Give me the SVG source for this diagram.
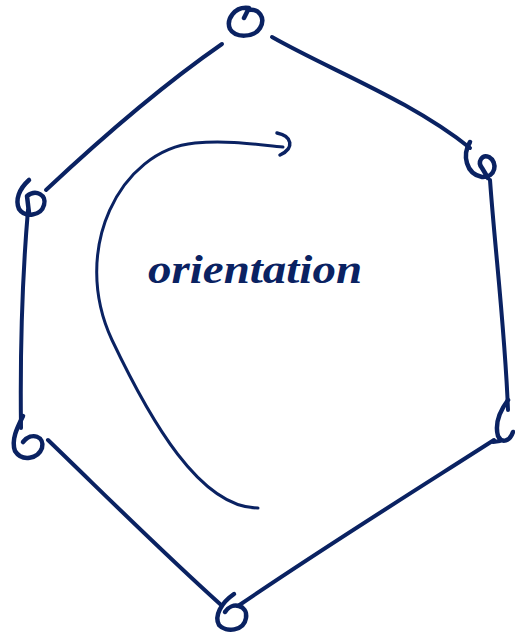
<svg xmlns="http://www.w3.org/2000/svg" width="515" height="633" viewBox="0 0 515 633">
<style>
.s{fill:none;stroke:#0a2262;stroke-linecap:round;stroke-linejoin:round}
.e{stroke-width:4}
.v{stroke-width:4.5}
.t{font-family:"Liberation Serif",serif;font-style:italic;font-weight:bold;font-size:40px;fill:#0a2262}
</style>
<rect width="515" height="633" fill="#fff"/>
<g id="connectors">
<path class="s e" d="M222,44 C170,80 110,130 46,190"/>
<path class="s e" d="M272,37 C330,70 410,100 470,148"/>
<path class="s e" d="M490,180 C495,250 505,330 508,410"/>
<path class="s e" d="M494,440 C400,500 320,550 238,606"/>
<path class="s e" d="M220,604 C160,550 100,490 48,440"/>
<path class="s e" d="M21,428 C20,350 22,280 28,210"/>
<path class="s" stroke-width="3" d="M258,508 C200,508 150,420 112,340 C70,250 120,150 195,143 C230,140 260,145 283,147"/>
<path class="s" stroke-width="3.5" d="M277,133 C292,136 295,148 280,155"/>
</g>
<g id="n1"><path class="s v" d="M249,8 C234,6 226,20 230,29 C235,38 254,38 260,28 C266,18 259,8 248,10 L244,18"/></g>
<g id="n2"><path class="s v" d="M470,142 C462,155 466,174 482,177 C496,178 498,162 489,157 C482,154 477,162 482,168 L488,178"/></g>
<g id="n3"><path class="s v" d="M508,400 C499,412 495,425 498,436 C502,444 510,441 513,432"/><path class="s e" d="M500,441 L493,442"/></g>
<g id="n4"><path class="s v" d="M234,594 C221,603 214,616 219,625 C226,633 244,631 246,618 C248,605 232,601 225,612"/></g>
<g id="n5"><path class="s v" d="M23,416 C17,428 11,440 15,451 C22,462 38,459 42,448 C45,437 32,431 23,442"/></g>
<g id="n6"><path class="s v" d="M29,180 C19,189 15,200 19,209 C25,218 41,216 44,205 C47,195 36,189 27,196 L29,213"/></g>
<g id="label"><text class="t" x="148" y="283" textLength="214" lengthAdjust="spacingAndGlyphs">orientation</text></g>
</svg>
